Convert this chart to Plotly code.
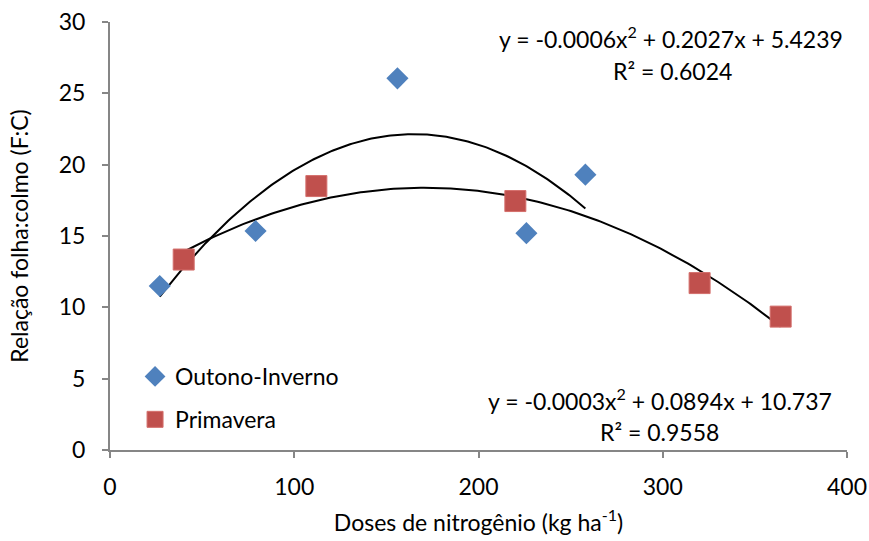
import numpy as np
import plotly.graph_objects as go

# Data
oi_x = [27, 79, 156, 226, 258]
oi_y = [11.5, 15.35, 26.05, 15.2, 19.3]
pr_x = [40, 112, 220, 320, 364]
pr_y = [13.35, 18.5, 17.45, 11.7, 9.35]

eq_oi = ["y = -0.0006x<sup>2</sup> + 0.2027x + 5.4239", "R² = 0.6024"]
eq_pr = ["y = -0.0003x<sup>2</sup> + 0.0894x + 10.737", "R² = 0.9558"]

FONT = "Lato"
BLUE = "#4F81BD"
RED = "#C0504D"
FS = 23

def trend(xs, ys):
    c = np.polyfit(xs, ys, 2)
    xx = np.linspace(min(xs), max(xs), 200)
    return xx, np.polyval(c, xx)

fig = go.Figure()
tx, ty = trend(oi_x, oi_y)
fig.add_trace(go.Scatter(x=tx, y=ty, mode="lines", line=dict(color="black", width=2),
                         showlegend=False, hoverinfo="skip"))
tx, ty = trend(pr_x, pr_y)
fig.add_trace(go.Scatter(x=tx, y=ty, mode="lines", line=dict(color="black", width=2),
                         showlegend=False, hoverinfo="skip"))
fig.add_trace(go.Scatter(x=oi_x, y=oi_y, mode="markers", name="Outono-Inverno",
                         legendgroup="a",
                         marker=dict(symbol="diamond", size=17, color=BLUE, line=dict(width=0))))
fig.add_trace(go.Scatter(x=pr_x, y=pr_y, mode="markers", name="Primavera",
                         legendgroup="b",
                         marker=dict(symbol="square", size=21, color=RED,
                                     line=dict(width=1, color="#D46F6C"))))

axis_common = dict(showgrid=False, zeroline=False, showline=True, linecolor="#868686",
                   linewidth=2, ticks="outside", tickcolor="#868686", ticklen=6, tickwidth=2,
                   automargin=False,
                   tickfont=dict(family=FONT, size=FS, color="black"))

fig.update_layout(
    width=869, height=541,
    margin=dict(l=110, r=22, t=22, b=91),
    plot_bgcolor="white", paper_bgcolor="white",
    font=dict(family=FONT, color="black"),
    xaxis=dict(range=[0, 400], tickvals=[0, 100, 200, 300, 400], ticklabelstandoff=9,
               title=dict(text="Doses de nitrogênio (kg ha<sup>-1</sup>)",
                          font=dict(family=FONT, size=FS), standoff=16),
               **axis_common),
    yaxis=dict(range=[0, 30], tickvals=[0, 5, 10, 15, 20, 25, 30], ticklabelstandoff=12,
               title=dict(text="Relação folha:colmo (F:C)",
                          font=dict(family=FONT, size=FS), standoff=24),
               **axis_common),
    legend=dict(x=0.034, y=0.222, xanchor="left", yanchor="top",
                font=dict(family=FONT, size=FS), tracegroupgap=10,
                bgcolor="rgba(0,0,0,0)", itemwidth=30),
    showlegend=True,
)

# Equation labels, one annotation per line for Excel-like line spacing
for text, x, y in [(eq_oi[0], 0.761, 0.963), (eq_oi[1], 0.763, 0.886),
                   (eq_pr[0], 0.746, 0.117), (eq_pr[1], 0.745, 0.042)]:
    fig.add_annotation(xref="paper", yref="paper", x=x, y=y, xanchor="center", yanchor="middle",
                       text=text, showarrow=False,
                       font=dict(family=FONT, size=FS, color="black"))

fig.write_html("out.html")
